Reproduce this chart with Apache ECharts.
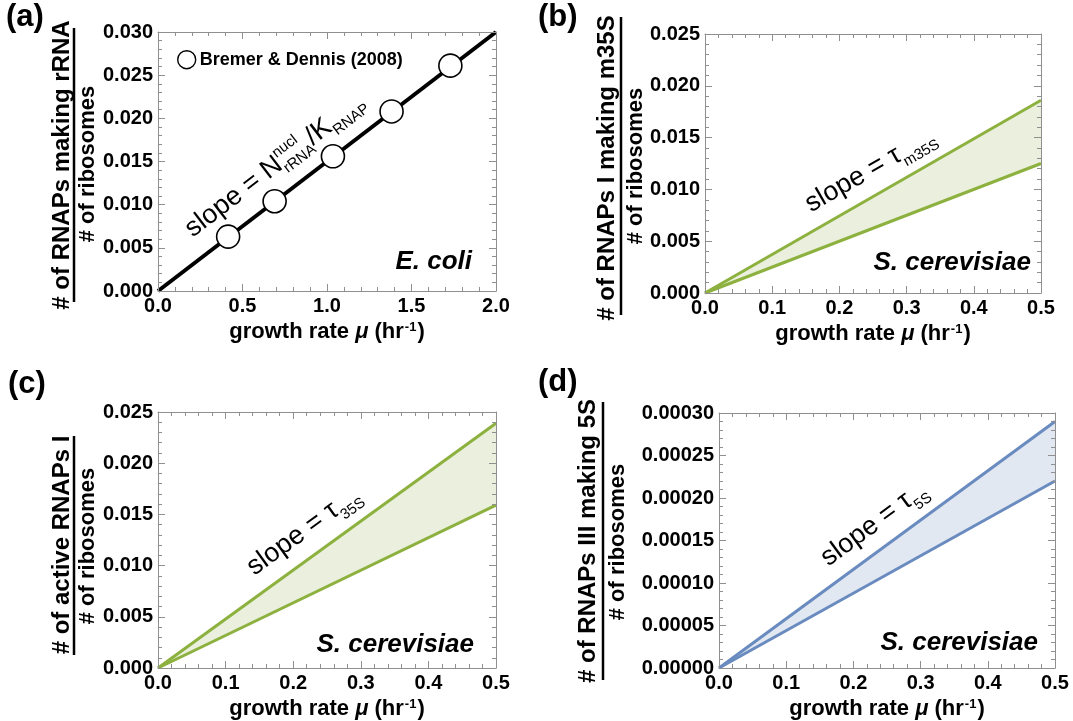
<!DOCTYPE html>
<html><head><meta charset="utf-8">
<script src="https://cdn.jsdelivr.net/npm/echarts@6/dist/echarts.min.js"></script>
<style>html,body{margin:0;padding:0;background:#fff}#c{width:1073px;height:721px}</style>
</head><body><div id="c"></div>
<script>
// ---------------- data ----------------
const ecoliMu = [0.415, 0.69, 1.035, 1.382, 1.73];
const ecoliRatio = [0.0063, 0.0104, 0.0156, 0.0208, 0.0261];
const ecoliFitX = [0, 2.0];
const ecoliFitY = [0, 0.030];

const bandX = [0, 0.5];
const m35sUpper = [0, 0.0186];
const m35sLower = [0, 0.0125];
const r35sUpper = [0, 0.0239];
const r35sLower = [0, 0.0159];
const r5sUpper = [0, 0.00029];
const r5sLower = [0, 0.00022];

const xMaxes = [2.0, 0.5, 0.5, 0.5];
const xIntervals = [0.5, 0.1, 0.1, 0.1];
const yMaxes = [0.030, 0.025, 0.025, 0.0003];
const yIntervals = [0.005, 0.005, 0.005, 0.00005];
const yDecimals = [3, 3, 3, 5];

const panelLetters = ['(a)', '(b)', '(c)', '(d)'];
const numerators = ['# of RNAPs making rRNA', '# of RNAPs I making m35S', '# of active RNAPs I', '# of RNAPs III making 5S'];
const denominator = '# of ribosomes';
const species = ['E. coli', 'S. cerevisiae', 'S. cerevisiae', 'S. cerevisiae'];
const legendName = 'Bremer & Dennis (2008)';

// ---------------- style ----------------
const FONT = '"Liberation Sans", Arial, Helvetica, sans-serif';
const GRAY = '#8f8f8f';
const GREEN = '#8db13f';
const GREEN_FILL = '#eaf0dd';
const BLUE = '#6a8bbf';
const BLUE_FILL = '#e1e8f2';

const grids = [
  {left: 158, top: 32, width: 338, height: 259},
  {left: 705, top: 34, width: 336, height: 259},
  {left: 158, top: 412, width: 338, height: 258},
  {left: 719, top: 413, width: 336, height: 258}
];

const xAxes = [], yAxes = [];
const xName = '{b|growth rate }{i|μ}{b| (hr}{s|-1}{b|)}';
const nameRich = {
  b: {fontFamily: FONT, fontWeight: 'bold', fontSize: 22, color: '#000'},
  i: {fontFamily: FONT, fontWeight: 'bold', fontStyle: 'italic', fontSize: 22, color: '#000'},
  s: {fontFamily: FONT, fontWeight: 'bold', fontSize: 13, color: '#000', verticalAlign: 'top', padding: [0, 1, 9, 1]}
};
function common(pos) {
  return {
    position: pos, z: 10,
    axisLine: {show: true, onZero: false, lineStyle: {color: GRAY, width: 1}},
    axisTick: {show: true, inside: true, length: 7, lineStyle: {color: GRAY, width: 1}},
    minorTick: {show: true, splitNumber: 5, length: 4, lineStyle: {color: GRAY, width: 1}},
    splitLine: {show: false}, minorSplitLine: {show: false}
  };
}
for (let i = 0; i < 4; i++) {
  const xb = Object.assign(common('bottom'), {
    type: 'value', gridIndex: i, min: 0, max: xMaxes[i], interval: xIntervals[i],
    name: xName, nameLocation: 'middle', nameGap: 30, nameTextStyle: {rich: nameRich},
    axisLabel: {show: true, margin: 5, fontFamily: FONT, fontWeight: 'bold', fontSize: 20, color: '#000',
      formatter: v => v.toFixed(1), showMinLabel: true, showMaxLabel: true}
  });
  const xt = Object.assign(common('top'), {
    type: 'value', gridIndex: i, min: 0, max: xMaxes[i], interval: xIntervals[i], axisLabel: {show: false}
  });
  const yl = Object.assign(common('left'), {
    type: 'value', gridIndex: i, min: 0, max: yMaxes[i], interval: yIntervals[i],
    axisLabel: {show: true, margin: 5, fontFamily: FONT, fontWeight: 'bold', fontSize: 20, color: '#000',
      formatter: (d => v => v.toFixed(d))(yDecimals[i]), showMinLabel: true, showMaxLabel: true}
  });
  const yr = Object.assign(common('right'), {
    type: 'value', gridIndex: i, min: 0, max: yMaxes[i], interval: yIntervals[i], axisLabel: {show: false}
  });
  xAxes.push(xb, xt); yAxes.push(yl, yr);
}

const pairs = (xs, ys) => xs.map((x, k) => [x, ys[k]]);
const series = [];
series.push({
  type: 'line', xAxisIndex: 0, yAxisIndex: 0, data: pairs(ecoliFitX, ecoliFitY),
  symbol: 'none', lineStyle: {color: '#000', width: 4}, z: 3, silent: true
});
series.push({
  name: legendName, type: 'scatter', xAxisIndex: 0, yAxisIndex: 0, data: pairs(ecoliMu, ecoliRatio),
  symbol: 'circle', symbolSize: 23, itemStyle: {color: '#fff', borderColor: '#000', borderWidth: 1.6, opacity: 1}, z: 5
});
const bands = [
  {p: 1, up: m35sUpper, lo: m35sLower, c: GREEN, f: GREEN_FILL},
  {p: 2, up: r35sUpper, lo: r35sLower, c: GREEN, f: GREEN_FILL},
  {p: 3, up: r5sUpper, lo: r5sLower, c: BLUE, f: BLUE_FILL}
];
bands.forEach(b => {
  const ax = {xAxisIndex: 2 * b.p, yAxisIndex: 2 * b.p};
  const rows = bandX.map((x, k) => [x, b.lo[k], b.up[k]]);
  series.push(Object.assign({
    type: 'custom', data: rows, z: 2, silent: true, clip: true,
    encode: {x: 0, y: [1, 2]},
    renderItem: (params, api) => {
      const i = params.dataIndex;
      if (i >= rows.length - 1) return null;
      const n = rows[i + 1];
      const pts = [api.coord([rows[i][0], rows[i][1]]), api.coord([n[0], n[1]]),
                   api.coord([n[0], n[2]]), api.coord([rows[i][0], rows[i][2]])];
      return {type: 'polygon', shape: {points: pts}, style: {fill: b.f, stroke: null}};
    }
  }, ax));
  series.push(Object.assign({type: 'line', data: pairs(bandX, b.up), symbol: 'none',
    lineStyle: {color: b.c, width: 3}, z: 4, silent: true}, ax));
  series.push(Object.assign({type: 'line', data: pairs(bandX, b.lo), symbol: 'none',
    lineStyle: {color: b.c, width: 3}, z: 4, silent: true}, ax));
});

const chart = echarts.init(document.getElementById('c'), null, {renderer: 'canvas'});
chart.setOption({
  animation: false,
  backgroundColor: '#fff',
  grid: grids.map(g => Object.assign({containLabel: false}, g)),
  xAxis: xAxes, yAxis: yAxes, series: series,
  legend: {
    data: [legendName], left: 172, top: 45, itemWidth: 18, itemHeight: 18, itemGap: 6,
    icon: 'circle', selectedMode: false,
    itemStyle: {color: '#fff', borderColor: '#000', borderWidth: 1.4},
    textStyle: {fontFamily: FONT, fontWeight: 'bold', fontSize: 18, color: '#000', padding: [0, 0, 0, -1]}
  }
});

// ---------------- annotations ----------------
const cv = document.createElement('canvas').getContext('2d');
function tw(t, size) { cv.font = size + 'px "Liberation Sans"'; return cv.measureText(t).width; }

const gfx = [];
const ZG = 50;
// panel letters
const letterPos = [[6, 2], [538, 2], [8, 369], [538, 367]];
letterPos.forEach((p, i) => gfx.push({type: 'text', x: p[0], y: p[1], z: ZG,
  style: {text: panelLetters[i], font: 'bold 31px ' + FONT, fill: '#000', align: 'left', verticalAlign: 'top',
    textAlign: 'left', textVerticalAlign: 'top'}}));

// y-axis fraction titles: [numerator center x, bar x, denominator center x, bar top, bar bottom, num center y, den center y]
const frac = [
  [62, 74, 88, 28, 302, 165, 164],
  [607, 621, 636, 17, 315, 168, 166],
  [62, 74, 88, 436, 655, 545, 546],
  [588, 603, 618, 402, 680, 541, 542]
];
frac.forEach((f, i) => {
  gfx.push({type: 'text', x: f[0], y: f[5], rotation: Math.PI / 2, z: ZG,
    style: {text: numerators[i], font: 'bold 24px ' + FONT, fill: '#000', align: 'center', verticalAlign: 'middle',
      textAlign: 'center', textVerticalAlign: 'middle'}});
  gfx.push({type: 'line', z: ZG, shape: {x1: f[1], y1: f[3], x2: f[1], y2: f[4]}, style: {stroke: '#000', lineWidth: 2.5}});
  gfx.push({type: 'text', x: f[2], y: f[6], rotation: Math.PI / 2, z: ZG,
    style: {text: denominator, font: 'bold 22px ' + FONT, fill: '#000', align: 'center', verticalAlign: 'middle',
      textAlign: 'center', textVerticalAlign: 'middle'}});
});

// species labels (right edge offset, bottom offset from grid)
const specOff = [[24, 29], [10, 30], [22, 25], [17, 28]];
specOff.forEach((o, i) => {
  const g = grids[i];
  gfx.push({type: 'text', z: ZG, x: g.left + g.width - o[0], y: g.top + g.height - o[1],
    style: {text: species[i], font: 'italic bold 26px ' + FONT, fill: '#000', align: 'right', verticalAlign: 'middle',
      textAlign: 'right', textVerticalAlign: 'middle'}});
});

// slope annotations along the upper line of each panel
const slopeSpecs = [
  {p: 0, end: [ecoliFitX[1], ecoliFitY[1]], along: 60, off: 15,
    parts: [{t: 'slope = N', s: 27}, {t: 'nucl', s: 15, dy: -15, stack: true}, {t: 'rRNA', s: 15, dy: 4}, {t: '/K', s: 27}, {t: 'RNAP', s: 15, dy: 4}]},
  {p: 1, end: [bandX[1], m35sUpper[1]], along: 132, off: 11,
    parts: [{t: 'slope = τ', s: 27}, {t: 'm35S', s: 15, dy: 5}]},
  {p: 2, end: [bandX[1], r35sUpper[1]], along: 132, off: 12,
    parts: [{t: 'slope = τ', s: 27}, {t: '35S', s: 15, dy: 5}]},
  {p: 3, end: [bandX[1], r5sUpper[1]], along: 148, off: 11,
    parts: [{t: 'slope = τ', s: 27}, {t: '5S', s: 15, dy: 5}]}
];
slopeSpecs.forEach(sp => {
  const f = {xAxisIndex: 2 * sp.p, yAxisIndex: 2 * sp.p};
  const p0 = chart.convertToPixel(f, [0, 0]);
  const p1 = chart.convertToPixel(f, sp.end);
  const dx = p1[0] - p0[0], dy = p1[1] - p0[1];
  const len = Math.hypot(dx, dy);
  const ux = dx / len, uy = dy / len;
  const ang = Math.atan2(-dy, dx);
  const children = [];
  let x = 0, pendingW = 0;
  sp.parts.forEach(pt => {
    const w = tw(pt.t, pt.s);
    children.push({type: 'text', x: x, y: -sp.off + (pt.dy || 0), z: ZG,
      style: {text: pt.t, font: pt.s + 'px ' + FONT, fill: '#000', align: 'left', verticalAlign: 'bottom',
        textAlign: 'left', textVerticalAlign: 'bottom'}});
    if (pt.stack) { pendingW = Math.max(pendingW, w); }
    else { x += Math.max(w, pendingW); pendingW = 0; }
  });
  gfx.push({type: 'group', z: ZG, x: p0[0] + ux * sp.along, y: p0[1] + uy * sp.along, rotation: ang, children: children});
});

chart.setOption({graphic: gfx});
</script>
</body></html>
